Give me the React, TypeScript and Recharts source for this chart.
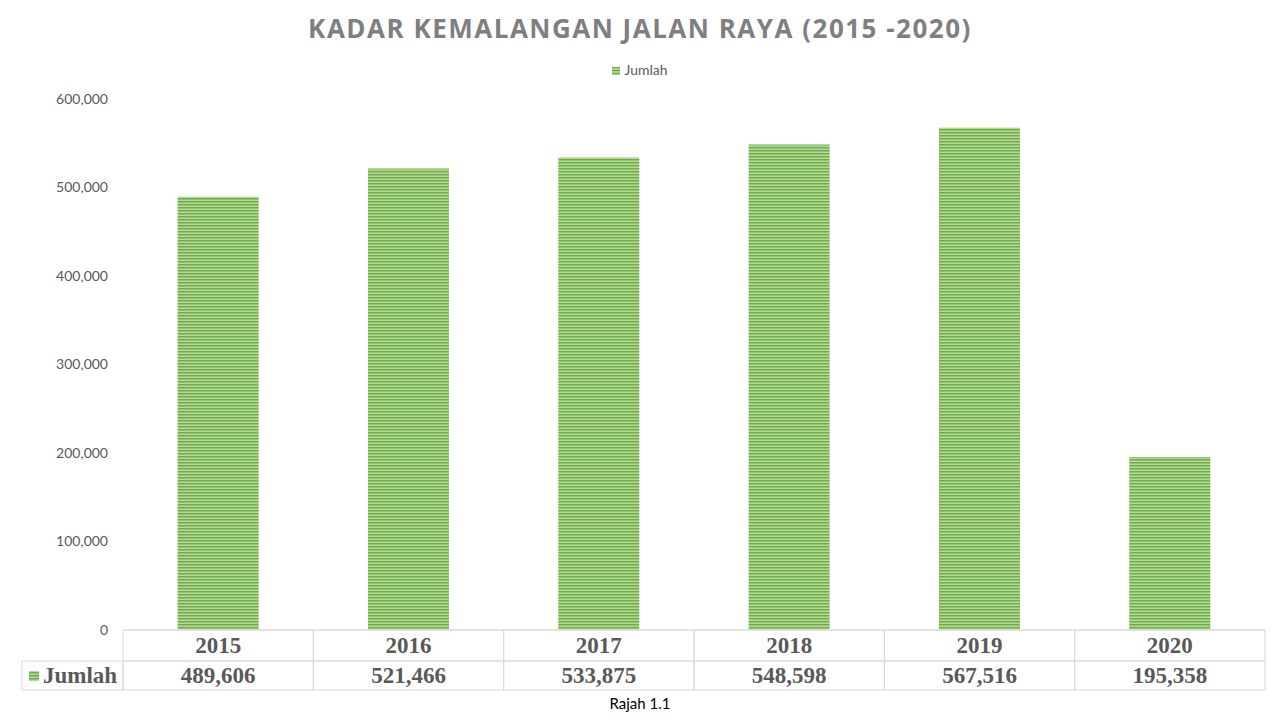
import React from "react";
import { BarChart, Bar, XAxis, YAxis } from "recharts";

const years = ["2015", "2016", "2017", "2018", "2019", "2020"];
const jumlah = [489606, 521466, 533875, 548598, 567516, 195358];
const yTicks = [0, 100000, 200000, 300000, 400000, 500000, 600000];

const data = years.map((year, i) => ({ year, Jumlah: jumlah[i] }));

const fmt = (v: number) => v.toLocaleString("en-US");

const BORDER = "#d9d9d9";
const TEXT = "#595959";
const COL_W = (1265 - 123) / years.length;
const ROW_H = 31;
const SERIF = "'Liberation Serif', serif";

// draws one column of the data table under the axis
const TableTick = (props: any) => {
  const { x, y, index } = props;
  const left = x - COL_W / 2;
  const top = y;
  return (
    <g>
      <rect x={left} y={top} width={COL_W} height={ROW_H} fill="none" stroke={BORDER} />
      <rect x={left} y={top + ROW_H} width={COL_W} height={ROW_H - 2} fill="none" stroke={BORDER} />
      <text x={x} y={top + 23} textAnchor="middle" fontFamily={SERIF} fontWeight="bold" fontSize={23} fill={TEXT}>
        {years[index]}
      </text>
      <text x={x} y={top + ROW_H + 22} textAnchor="middle" fontFamily={SERIF} fontWeight="bold" fontSize={23} fill={TEXT}>
        {fmt(jumlah[index])}
      </text>
      {index === 0 && (
        <g>
          <rect x={22} y={top + ROW_H} width={left - 22} height={ROW_H - 2} fill="none" stroke={BORDER} />
          <rect x={29} y={top + ROW_H + 10} width={10} height={10} fill="url(#stripes)" />
          <text x={43} y={top + ROW_H + 22} fontFamily={SERIF} fontWeight="bold" fontSize={23} fill={TEXT}>
            Jumlah
          </text>
        </g>
      )}
    </g>
  );
};

const App = () => {
  return (
    <div
      style={{
        position: "absolute",
        left: 0,
        top: 0,
        width: 1280,
        height: 720,
        background: "#fff",
        fontFamily: "Lato, sans-serif",
      }}
    >
      <div
        style={{
          position: "absolute",
          top: 10,
          width: 1280,
          textAlign: "center",
          fontSize: 26,
          fontWeight: "bold",
          fontFamily: "'Open Sans', sans-serif",
          color: "#7f7f7f",
          letterSpacing: 1.5,
        }}
      >
        KADAR KEMALANGAN JALAN RAYA (2015 -2020)
      </div>
      <div
        style={{
          position: "absolute",
          top: 61,
          width: 1280,
          textAlign: "center",
          fontSize: 14,
          color: TEXT,
        }}
      >
        <span
          style={{
            display: "inline-block",
            width: 8,
            height: 8,
            marginRight: 4,
            background: "repeating-linear-gradient(#70ad47 0 1.5px, #a9d18e 1.5px 3px)",
          }}
        />
        Jumlah
      </div>
      <BarChart
        width={1280}
        height={720}
        data={data}
        margin={{ top: 99, right: 15, bottom: 0, left: 23 }}
        barCategoryGap="28.7%"
      >
        <defs>
          <pattern id="stripes" width="6" height="3" patternUnits="userSpaceOnUse">
            <rect width="6" height="3" fill="#b5d99c" />
            <rect width="6" height="1.5" fill="#70ad47" />
          </pattern>
        </defs>
        <XAxis
          dataKey="year"
          axisLine={{ stroke: BORDER }}
          tickLine={false}
          tick={<TableTick />}
          interval={0}
          height={90}
          tickMargin={0}
          tickSize={0}
        />
        <YAxis
          width={100}
          domain={[0, 600000]}
          ticks={yTicks}
          tickFormatter={fmt}
          axisLine={false}
          tickLine={false}
          tickMargin={9}
          tick={{ fill: TEXT, fontSize: 14, fontFamily: "Lato, sans-serif" }}
        />
        <Bar dataKey="Jumlah" fill="url(#stripes)" isAnimationActive={false} />
      </BarChart>
      <div
        style={{
          position: "absolute",
          top: 694,
          width: 1280,
          textAlign: "center",
          fontSize: 15,
          color: "#000",
        }}
      >
        Rajah 1.1
      </div>
    </div>
  );
};

export default App;
